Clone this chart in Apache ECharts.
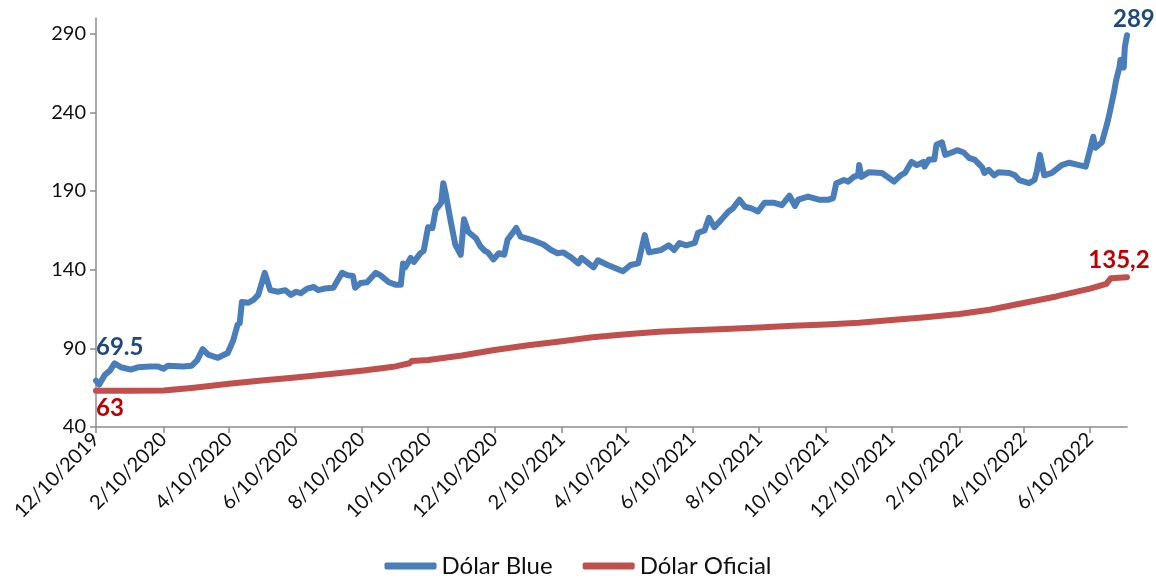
<!DOCTYPE html>
<html>
<head>
<meta charset="utf-8">
<script src="https://cdn.jsdelivr.net/npm/echarts@6/dist/echarts.min.js"></script>
<style>
html,body{margin:0;padding:0;background:#fff}
#chart{width:1156px;height:578px}
</style>
</head>
<body>
<div id="chart"></div>
<script>
var startDate = '2019-12-10';
var endDate = '2022-07-14';
var yTicks = [40, 90, 140, 190, 240, 290];
var seriesNames = ['Dólar Blue', 'Dólar Oficial'];

var dolarBlue = [
	['2019-12-10', 69.5], ['2019-12-13', 67], ['2019-12-18', 73], ['2019-12-23', 76], ['2019-12-27', 80.5],
	['2020-01-02', 78], ['2020-01-11', 76.5], ['2020-01-18', 78], ['2020-01-28', 78.5], ['2020-02-05', 78.5],
	['2020-02-10', 77], ['2020-02-14', 79], ['2020-02-28', 78.5], ['2020-03-07', 79], ['2020-03-12', 82.5],
	['2020-03-17', 89.5], ['2020-03-22', 86], ['2020-03-31', 84], ['2020-04-09', 87], ['2020-04-14', 95],
	['2020-04-18', 105], ['2020-04-20', 106], ['2020-04-22', 119.5], ['2020-04-28', 119], ['2020-05-03', 121],
	['2020-05-07', 124], ['2020-05-13', 138], ['2020-05-18', 127], ['2020-05-25', 126], ['2020-06-01', 127],
	['2020-06-06', 124], ['2020-06-11', 126], ['2020-06-15', 125], ['2020-06-21', 128], ['2020-06-27', 129],
	['2020-07-01', 127], ['2020-07-07', 128], ['2020-07-15', 128.5], ['2020-07-23', 138], ['2020-07-28', 136.5],
	['2020-08-02', 136], ['2020-08-04', 128.5], ['2020-08-09', 131.5], ['2020-08-15', 132], ['2020-08-23', 138],
	['2020-08-27', 136.5], ['2020-09-04', 132], ['2020-09-10', 130.5], ['2020-09-15', 130.5], ['2020-09-17', 144],
	['2020-09-19', 141.5], ['2020-09-24', 147.5], ['2020-09-27', 145], ['2020-10-03', 150.5], ['2020-10-06', 152],
	['2020-10-10', 167], ['2020-10-14', 166.5], ['2020-10-17', 178], ['2020-10-22', 182.5], ['2020-10-24', 195],
	['2020-10-26', 189], ['2020-10-31', 170], ['2020-11-04', 156], ['2020-11-09', 149.5], ['2020-11-12', 172],
	['2020-11-16', 164], ['2020-11-23', 160], ['2020-11-27', 155], ['2020-12-01', 152], ['2020-12-04', 151],
	['2020-12-09', 146.5], ['2020-12-14', 150.5], ['2020-12-19', 149.5], ['2020-12-22', 159], ['2020-12-30', 166.5],
	['2021-01-03', 161], ['2021-01-13', 159], ['2021-01-24', 156], ['2021-01-31', 152.5], ['2021-02-06', 150.5],
	['2021-02-11', 151], ['2021-02-18', 148], ['2021-02-25', 144], ['2021-02-28', 147.5], ['2021-03-11', 141.5],
	['2021-03-15', 146], ['2021-03-24', 143], ['2021-04-07', 139], ['2021-04-14', 143], ['2021-04-21', 144],
	['2021-04-27', 162], ['2021-05-01', 151], ['2021-05-12', 152.5], ['2021-05-19', 155.5], ['2021-05-24', 152.5],
	['2021-05-29', 157], ['2021-06-04', 155.5], ['2021-06-12', 157], ['2021-06-15', 163.5], ['2021-06-21', 165],
	['2021-06-25', 173], ['2021-06-30', 167], ['2021-07-06', 171.5], ['2021-07-13', 177], ['2021-07-17', 179],
	['2021-07-23', 184.5], ['2021-07-28', 180], ['2021-08-03', 179], ['2021-08-09', 177], ['2021-08-15', 182.5],
	['2021-08-24', 182.5], ['2021-08-31', 181], ['2021-09-07', 187], ['2021-09-12', 180.5], ['2021-09-15', 184.5],
	['2021-09-24', 186.5], ['2021-10-04', 184.5], ['2021-10-13', 184.5], ['2021-10-17', 185.5], ['2021-10-20', 195],
	['2021-10-27', 197], ['2021-10-31', 196], ['2021-11-05', 199], ['2021-11-09', 200], ['2021-11-10', 206.5],
	['2021-11-12', 199], ['2021-11-19', 202], ['2021-12-01', 201.5], ['2021-12-12', 196], ['2021-12-18', 200],
	['2021-12-22', 201.5], ['2021-12-28', 208.5], ['2022-01-02', 206.5], ['2022-01-08', 208.5], ['2022-01-09', 205.5],
	['2022-01-13', 210], ['2022-01-18', 210], ['2022-01-20', 219.5], ['2022-01-25', 221], ['2022-01-28', 213],
	['2022-02-03', 214.5], ['2022-02-08', 216], ['2022-02-14', 214.5], ['2022-02-19', 211], ['2022-02-24', 210],
	['2022-03-03', 205], ['2022-03-05', 201.5], ['2022-03-09', 203.5], ['2022-03-14', 200], ['2022-03-18', 202],
	['2022-03-28', 201.5], ['2022-04-02', 200], ['2022-04-06', 197], ['2022-04-15', 195], ['2022-04-20', 197],
	['2022-04-22', 202], ['2022-04-25', 213], ['2022-04-29', 200], ['2022-05-06', 201.5], ['2022-05-15', 206.5],
	['2022-05-22', 208], ['2022-05-31', 206.5], ['2022-06-06', 205.5], ['2022-06-10', 216], ['2022-06-13', 224.5],
	['2022-06-15', 217.5], ['2022-06-21', 221], ['2022-06-26', 233.5], ['2022-06-28', 239.5], ['2022-07-02', 252.5],
	['2022-07-04', 260.5], ['2022-07-07', 268.5], ['2022-07-08', 273.5], ['2022-07-11', 268.5], ['2022-07-12', 281.5],
	['2022-07-14', 289]
];

var dolarOficial = [
	['2019-12-10', 63], ['2020-01-09', 63], ['2020-02-10', 63.2], ['2020-03-09', 65], ['2020-04-10', 67.5],
	['2020-05-10', 69.5], ['2020-06-10', 71.5], ['2020-07-10', 73.5], ['2020-08-10', 75.8], ['2020-09-10', 78.5],
	['2020-09-23', 80.5], ['2020-09-25', 82], ['2020-10-10', 82.6], ['2020-11-10', 85.5], ['2020-12-10', 89],
	['2021-01-10', 92], ['2021-02-10', 94.5], ['2021-03-10', 97], ['2021-04-10', 99], ['2021-05-10', 100.5],
	['2021-06-10', 101.5], ['2021-07-10', 102.3], ['2021-08-10', 103.2], ['2021-09-10', 104.3], ['2021-10-10', 105.2],
	['2021-11-10', 106.2], ['2021-12-10', 108], ['2022-01-10', 109.8], ['2022-02-10', 111.8], ['2022-03-10', 114.5],
	['2022-04-10', 118.8], ['2022-05-10', 123], ['2022-06-10', 128], ['2022-06-25', 131], ['2022-06-29', 134.5],
	['2022-07-14', 135.2]
];

// eje de fechas diario
var categories = [];
var d = new Date(startDate + 'T00:00:00Z');
var end = new Date(endDate + 'T00:00:00Z');
while (d <= end) {
	categories.push(d.toISOString().slice(0, 10));
	d.setUTCDate(d.getUTCDate() + 1);
}
var catIndex = {};
categories.forEach(function (c, i) { catIndex[c] = i; });

function toUS(s) {
	var p = s.split('-');
	return (+p[1]) + '/' + (+p[2]) + '/' + p[0];
}
function isTick(index, value) {
	var p = value.split('-');
	return +p[2] === 10 && (+p[1]) % 2 === 0;
}

var labelFont = { fontFamily: 'Lato', fontWeight: 'bold', fontSize: 24 };

function buildData(pairs, firstLabel, lastLabel) {
	return pairs.map(function (p, i) {
		var item = { value: [catIndex[p[0]], p[1]] };
		if (i === 0 && firstLabel) item.label = firstLabel;
		if (i === pairs.length - 1 && lastLabel) item.label = lastLabel;
		return item;
	});
}

var blueData = buildData(dolarBlue,
	Object.assign({ show: true, formatter: '69.5', position: 'top', align: 'left', distance: 21, color: '#1F497D' }, labelFont),
	Object.assign({ show: true, formatter: '289', position: 'top', align: 'left', offset: [-14, 0], distance: 4, color: '#1F497D' }, labelFont)
);
var redData = buildData(dolarOficial,
	Object.assign({ show: true, formatter: '63', position: 'bottom', align: 'left', distance: 5, color: '#C00000' }, labelFont),
	Object.assign({ show: true, formatter: '135,2', position: 'top', align: 'center', offset: [-8, 0], distance: 5, color: '#C00000' }, labelFont)
);

var axisGray = '#8c8c8c';
var textColor = '#111';

var myChart = echarts.init(document.getElementById('chart'));
myChart.setOption({
	animation: false,
	backgroundColor: '#fff',
	grid: { left: 96, right: 29, top: 18, bottom: 151, containLabel: false },
	legend: {
		bottom: 0,
		left: 'center',
		padding: 0,
		itemWidth: 52,
		itemHeight: 7,
		itemGap: 30,
		icon: 'roundRect',
		textStyle: { fontFamily: 'Lato', fontSize: 24, color: textColor },
		data: seriesNames
	},
	xAxis: {
		type: 'category',
		data: categories,
		boundaryGap: false,
		axisLine: { lineStyle: { color: axisGray, width: 1.5 } },
		axisTick: { interval: isTick, length: 6, lineStyle: { color: axisGray, width: 1.5 } },
		axisLabel: {
			interval: isTick,
			rotate: 45,
			margin: 9,
			formatter: toUS,
			fontFamily: 'Lato',
			fontSize: 20,
			color: textColor
		},
		splitLine: { show: false }
	},
	yAxis: {
		type: 'value',
		min: 40,
		max: 300,
		axisLine: { show: true, lineStyle: { color: axisGray, width: 1.5 } },
		axisTick: { show: true, customValues: yTicks, length: 6, lineStyle: { color: axisGray, width: 1.5 } },
		axisLabel: { customValues: yTicks, margin: 10, fontFamily: 'Lato', fontSize: 20, color: textColor },
		splitLine: { show: false }
	},
	series: [{
		name: seriesNames[0],
		type: 'line',
		data: blueData,
		symbol: 'circle',
		symbolSize: 0,
		showSymbol: true,
		showAllSymbol: true,
		color: '#4A7EBB',
		lineStyle: { width: 6, color: '#4A7EBB', cap: 'round', join: 'round' },
		z: 3
	}, {
		name: seriesNames[1],
		type: 'line',
		data: redData,
		symbol: 'circle',
		symbolSize: 0,
		showSymbol: true,
		showAllSymbol: true,
		color: '#C0504D',
		lineStyle: { width: 6, color: '#C0504D', cap: 'round', join: 'round' },
		z: 2
	}]
});
</script>
</body>
</html>
